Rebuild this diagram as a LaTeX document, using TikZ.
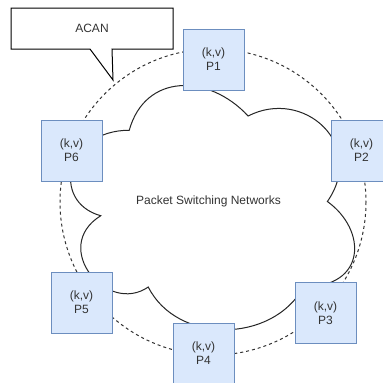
\documentclass[tikz,border=0pt]{standalone}
\usepackage{fontspec}
\setmainfont{Liberation Sans}
\begin{document}
\begin{tikzpicture}[x=1pt,y=-1pt,
  peer/.style={draw=peerline,fill=peerfill,line width=1pt,minimum width=61pt,
    minimum height=61pt,inner sep=0pt,align=center,text=txt,
    font=\fontsize{12}{14}\selectfont},
  label/.style={text=txt,font=\fontsize{12}{14}\selectfont,inner sep=0pt},
  ring/.style={draw=ringc,line width=1pt,dash pattern=on 3pt off 3pt},
  cloudline/.style={draw=black!85,line width=1pt,fill=white}]
\definecolor{peerfill}{HTML}{DAE8FC}
\definecolor{peerline}{HTML}{6C8EBF}
\definecolor{txt}{HTML}{333333}
\definecolor{ringc}{HTML}{333333}
\useasboundingbox (0,0) rectangle (383,383);
\fill[white] (0,0) rectangle (383,383);

% network cloud
\path[cloudline] (129.25,130.25)
  .. controls (65.85,130.25) and (50,201.5) .. (100.72,215.75)
  .. controls (50,247.1) and (107.06,315.5) .. (148.27,287)
  .. controls (176.8,344) and (271.9,344) .. (303.6,287)
  .. controls (367,287) and (367,230) .. (327.375,201.5)
  .. controls (367,144.5) and (303.6,87.5) .. (248.125,116)
  .. controls (208.5,73.25) and (145.1,73.25) .. (129.25,130.25) -- cycle;
\node[label] (net) at (208.5,201) {Packet Switching Networks};

% overlay ring
\coordinate (ctr) at (213,202);
\draw[ring] (ctr) circle[radius=153];

% peers
\node[peer] (p1) at (213.5,59.5) {(k,v)\\P1};
\node[peer] (p2) at (361.5,150.5) {(k,v)\\P2};
\node[peer] (p3) at (325.5,313) {(k,v)\\P3};
\node[peer] (p4) at (203.5,353.5) {(k,v)\\P4};
\node[peer] (p5) at (81.5,302.5) {(k,v)\\P5};
\node[peer] (p6) at (71.5,150.5) {(k,v)\\P6};

% callout
\draw[draw=black,line width=1pt,fill=white,line join=miter]
  (11,8) -- (173,8) -- (173,49) -- (112,49) -- (113,80) -- (90,49) -- (11,49) -- cycle;
\node[label] (acan) at (92,28.5) {ACAN};
\end{tikzpicture}
\end{document}
